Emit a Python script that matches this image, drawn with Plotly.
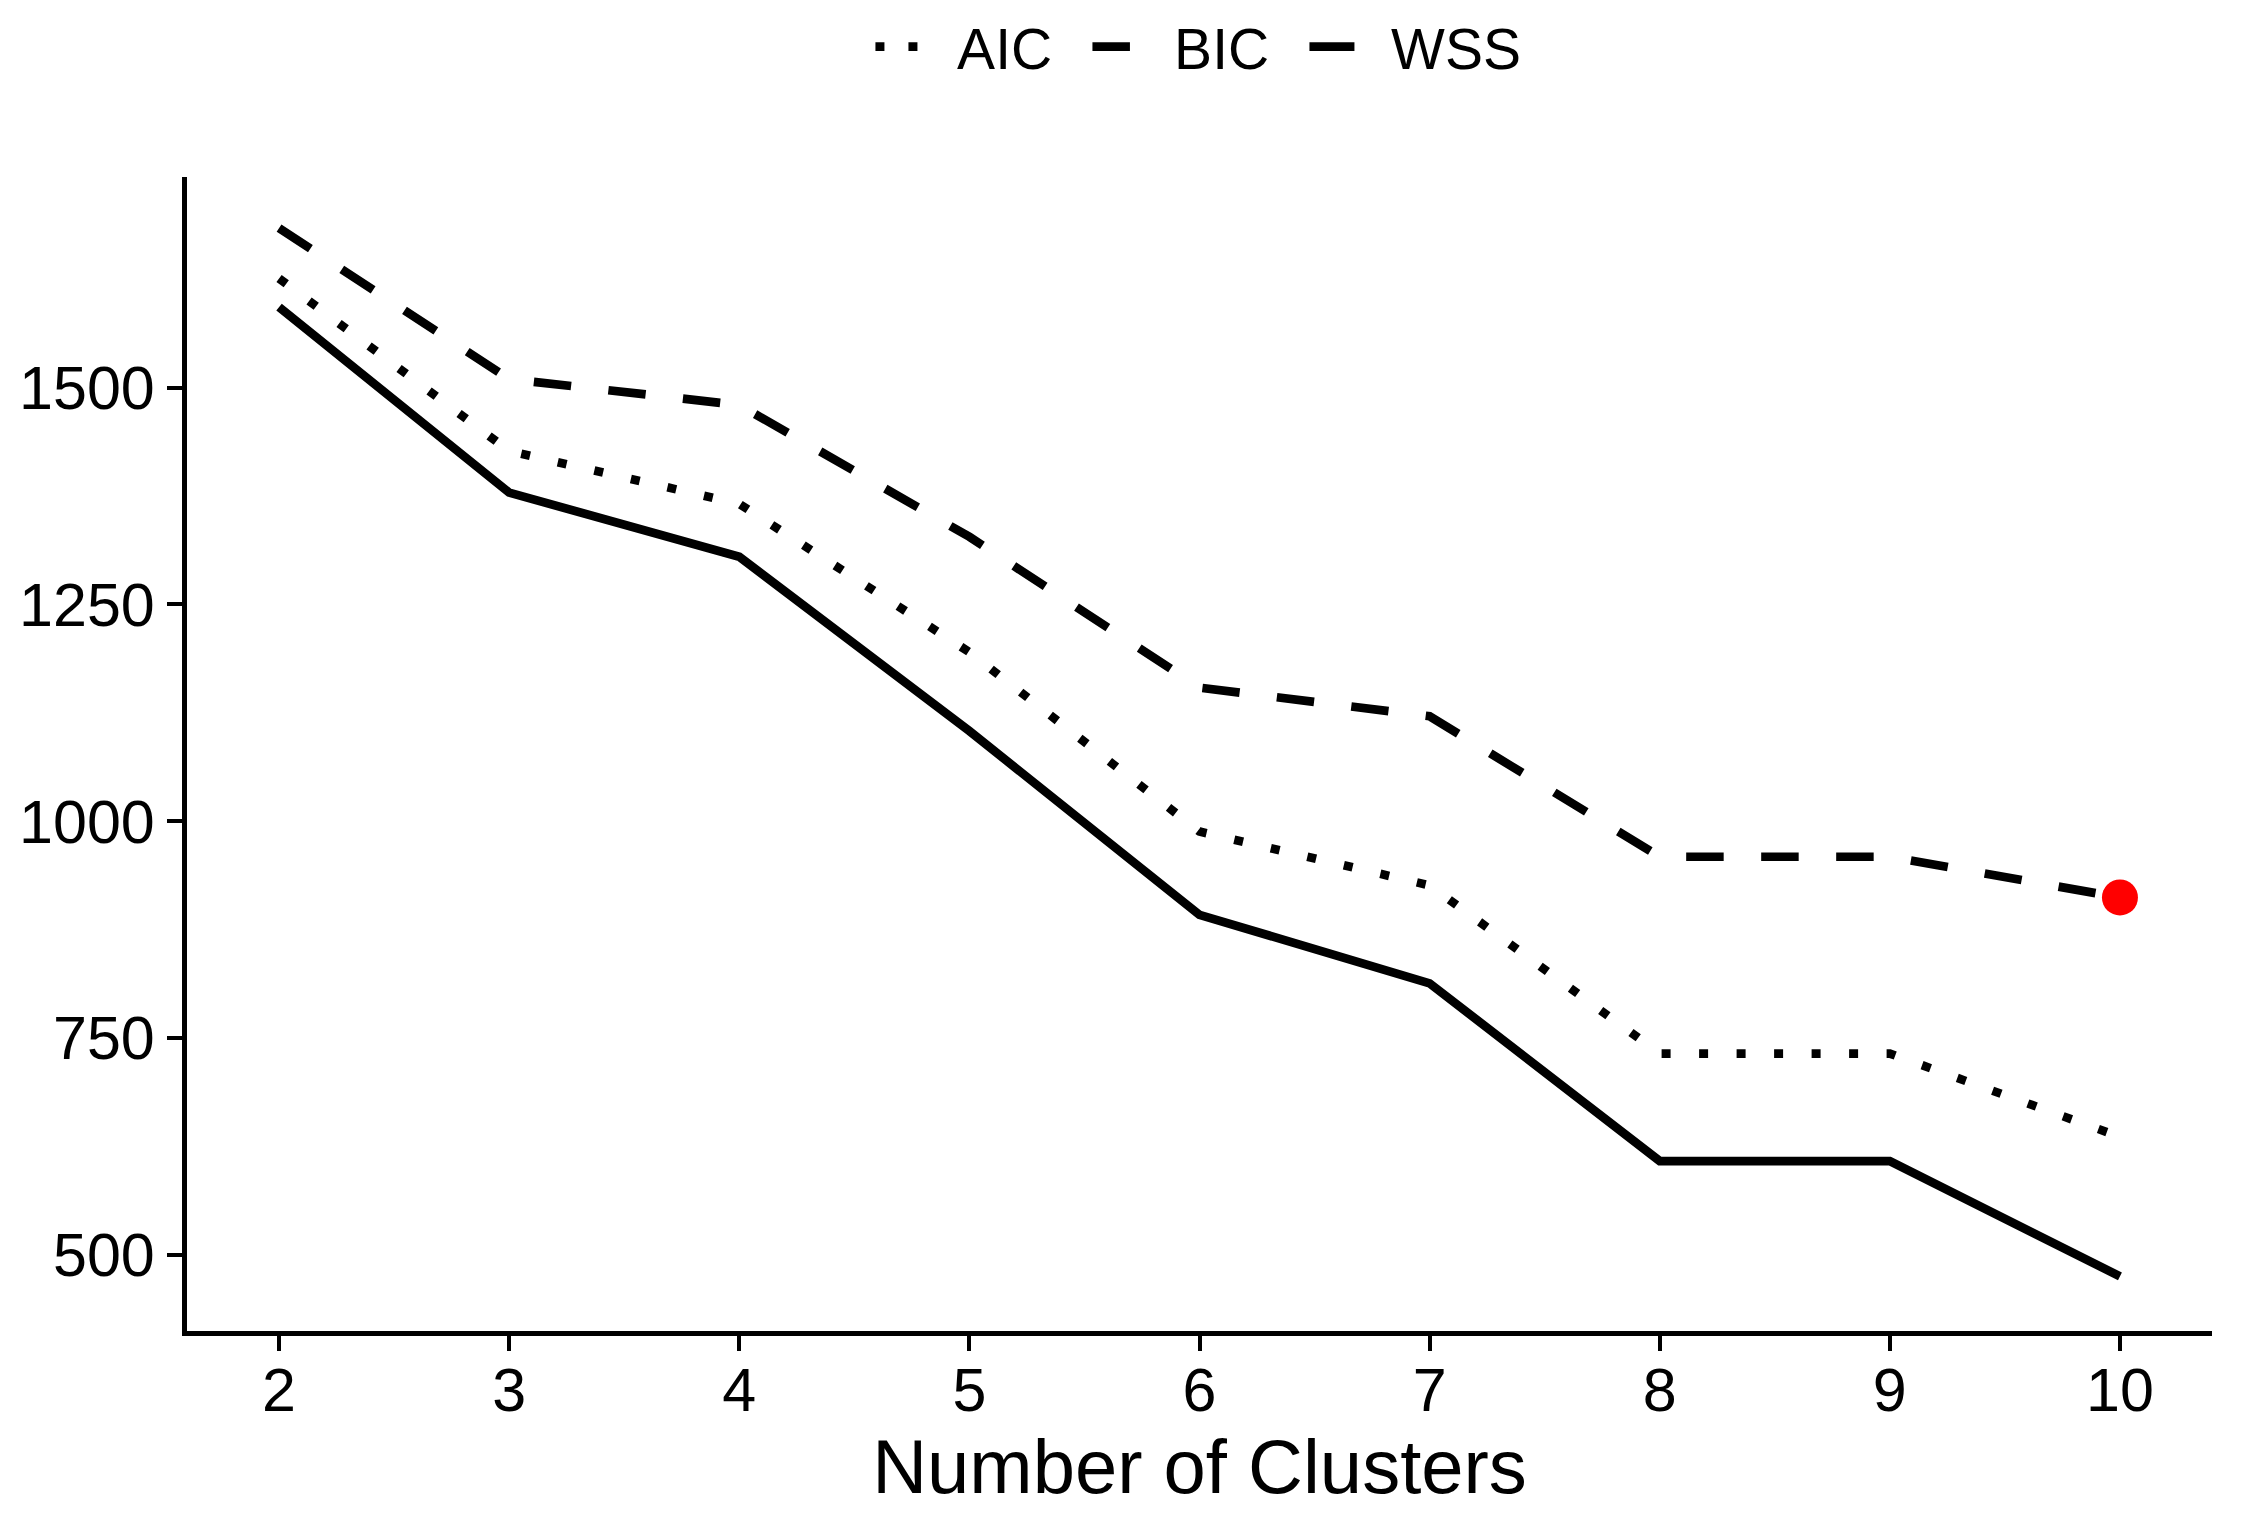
import plotly.graph_objects as go

clusters = [2, 3, 4, 5, 6, 7, 8, 9, 10]
aic = [1626, 1427, 1366, 1195, 988, 926, 732, 732, 636]
bic = [1684, 1510, 1480, 1328, 1154, 1121, 959, 959, 912]
wss = [1593, 1379, 1305, 1104, 892, 813, 608, 608, 475]
optimal_k = 10
y_ticks = [500, 750, 1000, 1250, 1500]

FONT = "Liberation Sans, Arial, sans-serif"
LW = 8.7
PAD = "\u00a0\u00a0"  # gap between legend key and label

fig = go.Figure()
fig.add_trace(go.Scatter(x=clusters, y=aic, mode="lines", name="AIC", showlegend=False,
                         line=dict(color="black", width=LW, dash="9px,28.5px")))
# legend key for AIC (two dots, as in the reference key)
fig.add_trace(go.Scatter(x=[None], y=[None], mode="lines", name=PAD + "AIC", showlegend=True,
                         line=dict(color="black", width=LW, dash="9px,24px")))
fig.add_trace(go.Scatter(x=clusters, y=bic, mode="lines", name=PAD + "BIC",
                         line=dict(color="black", width=LW, dash="37.5px,37.5px")))
fig.add_trace(go.Scatter(x=clusters, y=wss, mode="lines", name=PAD + "WSS",
                         line=dict(color="black", width=LW, dash="solid")))
fig.add_trace(go.Scatter(x=[optimal_k], y=[bic[clusters.index(optimal_k)]], mode="markers",
                         showlegend=False, marker=dict(color="red", size=36, line=dict(width=0))))

fig.update_layout(
    width=2240, height=1519,
    margin=dict(l=179, r=36, t=169, b=196, autoexpand=False),
    paper_bgcolor="white", plot_bgcolor="white",
    font=dict(family=FONT, size=61, color="black"),
    showlegend=True,
    legend=dict(orientation="h", x=0.3375, xanchor="left", y=1.1126, yanchor="middle",
                entrywidth=157, itemwidth=45,
                font=dict(size=57, family=FONT, color="black"),
                bgcolor="rgba(0,0,0,0)", borderwidth=0),
)
fig.update_xaxes(
    range=[1.6, 10.4], tickmode="array", tickvals=clusters, ticktext=[str(c) for c in clusters],
    showline=True, linecolor="black", linewidth=5, mirror=False,
    ticks="outside", ticklen=15, tickwidth=4, tickcolor="black",
    showgrid=False, zeroline=False, ticklabelstandoff=-13,
    tickfont=dict(size=61, family=FONT, color="black"),
    title=dict(text="Number of Clusters", font=dict(size=76, family=FONT, color="black"), standoff=14),
)
fig.update_yaxes(
    range=[412, 1743], tickmode="array", tickvals=y_ticks, ticktext=[str(v) for v in y_ticks],
    showline=True, linecolor="black", linewidth=5, mirror=False,
    ticks="outside", ticklen=15, tickwidth=4, tickcolor="black",
    showgrid=False, zeroline=False,
    tickfont=dict(size=61, family=FONT, color="black"),
)

fig.write_html("out.html")
